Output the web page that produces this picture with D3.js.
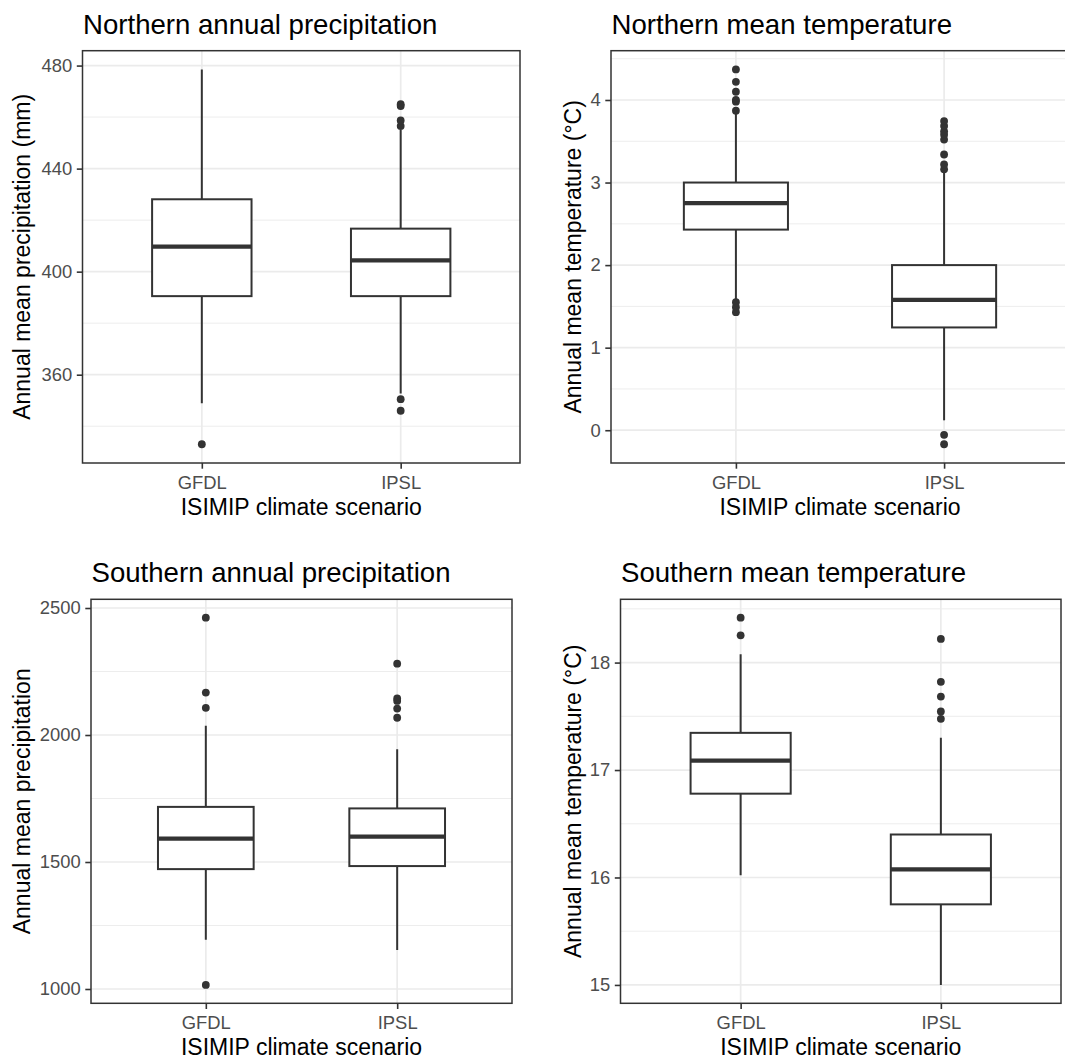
<!DOCTYPE html>
<html>
<head>
<meta charset="utf-8">
<script src="https://cdn.jsdelivr.net/npm/d3@7"></script>
<style>
  html, body { margin: 0; padding: 0; background: #fff; }
  svg { display: block; }
  text { font-family: "Liberation Sans", Arial, Helvetica, sans-serif; }
</style>
</head>
<body>
<svg id="chart" width="1065" height="1059"></svg>
<script>
// ---------------- DATA ----------------
const categories = ["GFDL", "IPSL"];

// box stats per category: [lower whisker, Q1, median, Q3, upper whisker]
const northPrecipBoxes = [
  [348.9, 390.5, 409.7, 428.1, 478.5],
  [352.7, 390.5, 404.4, 416.7, 455.0]
];
const northPrecipOutliers = [
  [333.0],
  [346.0, 350.5, 456.5, 458.7, 464.3, 465.0]
];
const northPrecipTicks = [360, 400, 440, 480];

const northTempBoxes = [
  [1.57, 2.43, 2.75, 3.0, 3.85],
  [0.12, 1.245, 1.58, 2.0, 3.14]
];
const northTempOutliers = [
  [1.43, 1.49, 1.55, 3.87, 3.98, 4.0, 4.10, 4.22, 4.37],
  [-0.17, -0.056, 3.16, 3.22, 3.34, 3.52, 3.58, 3.62, 3.685, 3.745]
];
const northTempTicks = [0, 1, 2, 3, 4];

const southPrecipBoxes = [
  [1194, 1472, 1592, 1717, 2036],
  [1154, 1484, 1600, 1711, 1944]
];
const southPrecipOutliers = [
  [1016, 2107, 2167, 2462],
  [2068, 2104, 2134, 2144, 2281]
];
const southPrecipTicks = [1000, 1500, 2000, 2500];

const southTempBoxes = [
  [16.02, 16.78, 17.087, 17.346, 18.077],
  [15.0, 15.75, 16.076, 16.40, 17.30]
];
const southTempOutliers = [
  [18.254, 18.418],
  [17.477, 17.545, 17.684, 17.821, 18.22]
];
const southTempTicks = [15, 16, 17, 18];

const titles = [
  "Northern annual precipitation",
  "Northern mean temperature",
  "Southern annual precipitation",
  "Southern mean temperature"
];
const yTitles = [
  "Annual mean precipitation (mm)",
  "Annual mean temperature (\u00B0C)",
  "Annual mean precipitation",
  "Annual mean temperature (\u00B0C)"
];
const xTitle = "ISIMIP climate scenario";

// ---------------- LAYOUT ----------------
const panels = [
  { boxes: northPrecipBoxes, outliers: northPrecipOutliers, ticks: northPrecipTicks,
    title: titles[0], yTitle: yTitles[0], left: 82.5, right: 520, top: 50.7, bottom: 463, yTitleX: 30 },
  { boxes: northTempBoxes, outliers: northTempOutliers, ticks: northTempTicks,
    title: titles[1], yTitle: yTitles[1], left: 611, right: 1069, top: 50.7, bottom: 463, yTitleX: 580.8 },
  { boxes: southPrecipBoxes, outliers: southPrecipOutliers, ticks: southPrecipTicks,
    title: titles[2], yTitle: yTitles[2], left: 91, right: 512, top: 599.3, bottom: 1003.3, yTitleX: 30 },
  { boxes: southTempBoxes, outliers: southTempOutliers, ticks: southTempTicks,
    title: titles[3], yTitle: yTitles[3], left: 620.5, right: 1061, top: 599.3, bottom: 1003.3, yTitleX: 580.8 }
];

const svg = d3.select("#chart");
svg.append("rect").attr("width", 1065).attr("height", 1059).attr("fill", "#fff");

const DARK = "#333333";
const GRID = "#EBEBEB";
const TICKLEN = 5.7, TICKPAD = 4.6;

panels.forEach(p => {
  const g = svg.append("g");

  // y scale with ggplot-like 5% expansion
  const all = [];
  p.boxes.forEach(b => all.push(...b));
  p.outliers.forEach(o => all.push(...o));
  const [mn, mx] = d3.extent(all);
  const pad = (mx - mn) * 0.05;
  const y = d3.scaleLinear().domain([mn - pad, mx + pad]).range([p.bottom, p.top]);

  // x scale (discrete, 0.6 expansion)
  const x = d3.scalePoint().domain(categories).range([p.left, p.right]).padding(0.6);
  const step = x.step();
  const boxW = step * 0.5;

  // clip for panel
  const clipId = "clip" + Math.round(p.left) + "_" + Math.round(p.top);
  svg.append("clipPath").attr("id", clipId)
    .append("rect").attr("x", p.left).attr("y", p.top)
    .attr("width", p.right - p.left).attr("height", p.bottom - p.top);
  const inner = g.append("g").attr("clip-path", `url(#${clipId})`);

  inner.append("rect").attr("x", p.left).attr("y", p.top)
    .attr("width", p.right - p.left).attr("height", p.bottom - p.top).attr("fill", "#fff");

  // minor grid
  const tstep = p.ticks[1] - p.ticks[0];
  const minor = [];
  for (let i = -1; i < p.ticks.length; i++) {
    const v = p.ticks[0] + (i + 0.5) * tstep;
    if (v >= y.domain()[0] && v <= y.domain()[1]) minor.push(v);
  }
  inner.selectAll(".minor").data(minor).enter().append("line")
    .attr("x1", p.left).attr("x2", p.right)
    .attr("y1", d => y(d)).attr("y2", d => y(d))
    .attr("stroke", GRID).attr("stroke-width", 0.9);

  // major grid
  inner.selectAll(".major").data(p.ticks).enter().append("line")
    .attr("x1", p.left).attr("x2", p.right)
    .attr("y1", d => y(d)).attr("y2", d => y(d))
    .attr("stroke", GRID).attr("stroke-width", 1.7);
  inner.selectAll(".vmajor").data(categories).enter().append("line")
    .attr("x1", d => x(d)).attr("x2", d => x(d))
    .attr("y1", p.top).attr("y2", p.bottom)
    .attr("stroke", GRID).attr("stroke-width", 1.7);

  // boxes
  categories.forEach((c, i) => {
    const b = p.boxes[i];
    const cx = x(c);
    const bg = inner.append("g");
    bg.append("line").attr("x1", cx).attr("x2", cx)
      .attr("y1", y(b[3])).attr("y2", y(b[4]))
      .attr("stroke", DARK).attr("stroke-width", 2);
    bg.append("line").attr("x1", cx).attr("x2", cx)
      .attr("y1", y(b[1])).attr("y2", y(b[0]))
      .attr("stroke", DARK).attr("stroke-width", 2);
    bg.append("rect").attr("x", cx - boxW / 2).attr("width", boxW)
      .attr("y", y(b[3])).attr("height", y(b[1]) - y(b[3]))
      .attr("fill", "#fff").attr("stroke", DARK).attr("stroke-width", 2);
    bg.append("line").attr("x1", cx - boxW / 2).attr("x2", cx + boxW / 2)
      .attr("y1", y(b[2])).attr("y2", y(b[2]))
      .attr("stroke", DARK).attr("stroke-width", 4.3);
    bg.selectAll("circle").data(p.outliers[i]).enter().append("circle")
      .attr("cx", cx).attr("cy", d => y(d)).attr("r", 3.9)
      .attr("fill", DARK);
  });

  // frame
  g.append("rect").attr("x", p.left).attr("y", p.top)
    .attr("width", p.right - p.left).attr("height", p.bottom - p.top)
    .attr("fill", "none").attr("stroke", DARK).attr("stroke-width", 1.5);

  // y axis
  const ya = g.append("g").attr("transform", `translate(${p.left},0)`)
    .call(d3.axisLeft(y).tickValues(p.ticks).tickSize(TICKLEN).tickPadding(TICKPAD).tickFormat(d3.format("d")));
  ya.select(".domain").remove();
  ya.selectAll("line").attr("stroke", DARK).attr("stroke-width", 1.6);
  ya.selectAll("text").attr("fill", "#4D4D4D").style("font-size", "18.4px")
    .style("font-family", '"Liberation Sans", Arial, sans-serif');

  // x axis
  const xa = g.append("g").attr("transform", `translate(0,${p.bottom})`)
    .call(d3.axisBottom(x).tickSize(TICKLEN).tickPadding(TICKPAD));
  xa.select(".domain").remove();
  xa.selectAll("line").attr("stroke", DARK).attr("stroke-width", 1.6);
  xa.selectAll("text").attr("fill", "#4D4D4D").attr("dy", null).attr("y", 26)
    .style("font-size", "18.4px")
    .style("font-family", '"Liberation Sans", Arial, sans-serif');

  // titles
  g.append("text").attr("x", p.left + 0.5).attr("y", p.top - 17)
    .attr("fill", "#000").style("font-size", "27.6px").text(p.title);
  g.append("text").attr("x", (p.left + p.right) / 2).attr("y", p.bottom + 51.5)
    .attr("text-anchor", "middle").attr("fill", "#000").style("font-size", "23px").text(xTitle);
  g.append("text")
    .attr("transform", `translate(${p.yTitleX},${(p.top + p.bottom) / 2}) rotate(-90)`)
    .attr("text-anchor", "middle").attr("fill", "#000").style("font-size", "23px").text(p.yTitle);
});
</script>
</body>
</html>
